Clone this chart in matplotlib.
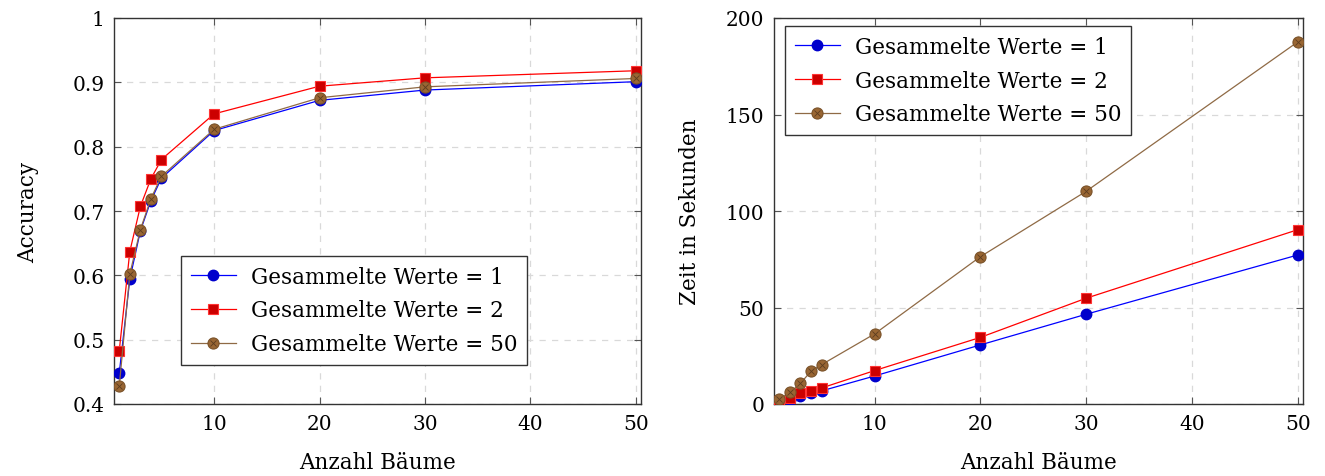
import matplotlib
matplotlib.use("Agg")
import matplotlib.pyplot as plt

plt.rcParams['font.family'] = ['DejaVu Serif']
plt.rcParams['font.size'] = 12

baeume = [1, 2, 3, 4, 5, 10, 20, 30, 50]

acc_1 = [0.448, 0.594, 0.669, 0.716, 0.751, 0.825, 0.872, 0.888, 0.901]
acc_2 = [0.483, 0.637, 0.707, 0.750, 0.780, 0.851, 0.894, 0.907, 0.918]
acc_50 = [0.428, 0.602, 0.671, 0.719, 0.754, 0.827, 0.876, 0.893, 0.906]

zeit_1 = [0.8, 2.0, 4.2, 5.5, 6.8, 14.5, 30.6, 46.5, 77.2]
zeit_2 = [1.5, 3.0, 5.7, 6.9, 8.3, 17.3, 34.5, 54.8, 90.3]
zeit_50 = [2.6, 6.0, 10.7, 17.0, 20.4, 36.3, 76.3, 110.2, 187.6]

labels = ['Gesammelte Werte = 1', 'Gesammelte Werte = 2', 'Gesammelte Werte = 50']

fig = plt.figure(figsize=(13.25, 4.77), dpi=100)
ax1 = fig.add_axes([114 / 1325, 72 / 477, 527 / 1325, 386 / 477])
ax2 = fig.add_axes([774 / 1325, 72 / 477, 529 / 1325, 386 / 477])


def draw(ax, y1, y2, y50):
    l1, = ax.plot(baeume, y1, color='#0000ff', lw=0.9, marker='o', ms=7.5,
                  mfc='#0000cc', mec='#0000cc', zorder=3)
    l2, = ax.plot(baeume, y2, color='#ff0000', lw=0.9, marker='s', ms=7.5,
                  mfc='#cc0000', mec='#ff3333', mew=0.8, zorder=4)
    l3, = ax.plot(baeume, y50, color='#8f6a45', lw=0.9, marker='o', ms=8,
                  mfc='#996633', mec='#7a5229', mew=0.8, zorder=5)
    l3x, = ax.plot(baeume, y50, ls='none', marker='x', ms=5,
                   mec='#5c3d1f', mew=0.6, zorder=6)
    ax.set_xlim(0.5, 50.5)
    ax.set_xticks([10, 20, 30, 40, 50])
    ax.grid(True, color='#d9d9d9', ls=(0, (5, 5)), lw=0.9)
    ax.set_axisbelow(True)
    ax.tick_params(direction='in', top=True, right=True, length=5,
                   color='#555555', labelsize=14.5, pad=7)
    for s in ax.spines.values():
        s.set_color('#333333')
        s.set_linewidth(1.0)
    ax.set_xlabel('Anzahl Bäume', fontsize=15.5, labelpad=13)
    return [l1, l2, (l3, l3x)]


def legende(ax, h, **kw):
    leg = ax.legend(h, labels, fontsize=15.5, frameon=True, fancybox=False,
                    edgecolor='#333333', framealpha=1, borderpad=0.45,
                    labelspacing=0.55, handlelength=2.1, handletextpad=0.7,
                    borderaxespad=0, **kw)
    leg.get_frame().set_linewidth(1.0)


h = draw(ax1, acc_1, acc_2, acc_50)
ax1.set_ylim(0.4, 1.0)
ax1.set_yticks([0.4, 0.5, 0.6, 0.7, 0.8, 0.9, 1.0])
ax1.set_yticklabels(['0.4', '0.5', '0.6', '0.7', '0.8', '0.9', '1'])
ax1.set_ylabel('Accuracy', fontsize=15.5, labelpad=24)
legende(ax1, h, loc='lower right', bbox_to_anchor=(0.784, 0.101))

h = draw(ax2, zeit_1, zeit_2, zeit_50)
ax2.set_ylim(0, 200)
ax2.set_yticks([0, 50, 100, 150, 200])
ax2.set_ylabel('Zeit in Sekunden', fontsize=15.5, labelpad=18)
legende(ax2, h, loc='upper left', bbox_to_anchor=(0.021, 0.979))

fig.savefig('out.png', dpi=100)
